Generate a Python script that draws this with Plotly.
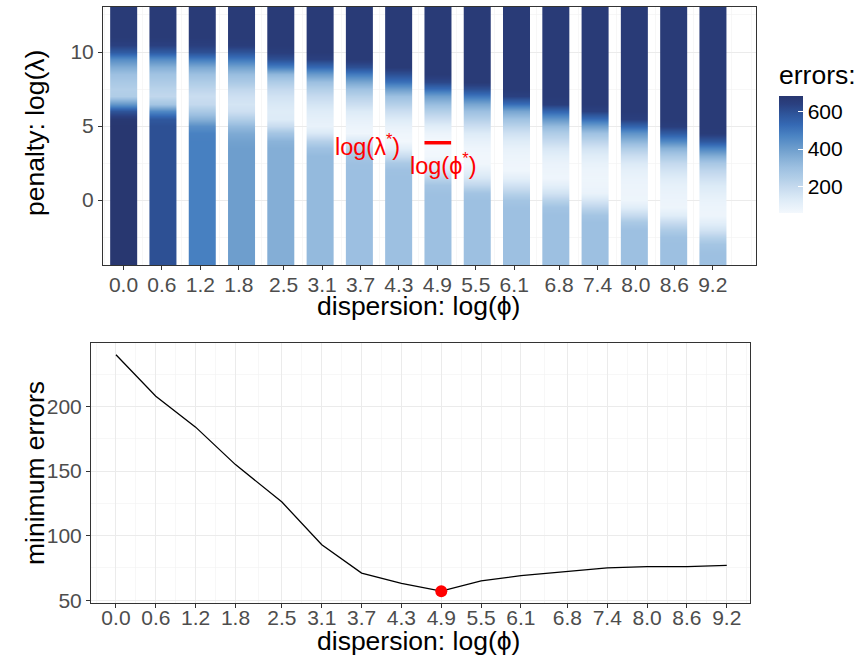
import plotly.graph_objects as go

# ---------------- data ----------------
log_phi = [0.0, 0.613, 1.227, 1.84, 2.453, 3.067, 3.68, 4.293, 4.907, 5.52,
           6.133, 6.747, 7.36, 7.973, 8.587, 9.2]
tick_labels = [0.0, 0.6, 1.2, 1.8, 2.5, 3.1, 3.7, 4.3, 4.9, 5.5, 6.1, 6.8, 7.4, 8.0, 8.6, 9.2]
minor_x = [-0.3, 0.3, 0.9, 1.5, 2.15, 2.8, 3.4, 4.0, 4.6, 5.2, 5.8, 6.45, 7.1, 7.7, 8.3, 8.9, 9.5, 9.8]

log_lambda = [-4.5, -4.0, -3.5, -3.0, -2.5, -2.0, -1.5, -1.0, -0.5, 0.0, 0.5, 1.0,
              1.5, 2.0, 2.5, 3.0, 3.5, 4.0, 4.5, 5.0, 5.5, 6.0, 6.5, 7.0,
              7.5, 8.0, 8.5, 9.0, 9.5, 10.0, 10.5, 11.0, 11.5, 12.0, 12.5, 13.0]

# errors for each dispersion column, listed from log_lambda = -4.5 up to 13.0
err_c01 = [684, 684, 684, 684, 684, 684, 684, 684, 684, 684, 684, 684, 684, 684, 684, 684, 684, 684,
           684, 684, 675, 590, 420, 248, 240, 265, 300, 360, 450, 570, 640, 665, 665, 665, 665, 665]
err_c02 = [600, 600, 600, 600, 600, 600, 600, 600, 600, 600, 600, 600, 600, 600, 600, 600, 600, 600,
           600, 600, 580, 460, 280, 208, 225, 255, 290, 350, 450, 570, 640, 665, 665, 665, 665, 665]
err_c03 = [480, 480, 480, 480, 480, 480, 480, 480, 480, 480, 480, 480, 480, 480, 480, 480, 480, 480,
           475, 440, 350, 265, 200, 185, 215, 250, 300, 370, 490, 600, 645, 665, 665, 665, 665, 665]
err_c04 = [400, 400, 400, 400, 400, 400, 400, 400, 400, 400, 400, 400, 400, 400, 400, 400, 400, 390,
           365, 320, 245, 175, 155, 175, 210, 260, 310, 390, 500, 590, 655, 665, 665, 665, 665, 665]
err_c05 = [355, 355, 355, 355, 355, 355, 355, 355, 355, 355, 355, 355, 355, 355, 355, 355, 355, 340,
           280, 190, 130, 126, 140, 165, 200, 250, 330, 480, 600, 650, 665, 665, 665, 665, 665, 665]
err_c06 = [320, 320, 320, 320, 320, 320, 320, 320, 320, 320, 320, 320, 320, 320, 320, 320, 295, 235,
           140, 93, 105, 125, 155, 195, 240, 300, 410, 530, 640, 665, 665, 665, 665, 665, 665, 665]
err_c07 = [302, 302, 302, 302, 302, 302, 302, 302, 302, 302, 302, 302, 302, 302, 298, 280, 220, 140,
           71, 80, 100, 130, 180, 230, 290, 375, 490, 600, 665, 665, 665, 665, 665, 665, 665, 665]
err_c08 = [300, 300, 300, 300, 300, 300, 300, 300, 300, 300, 300, 300, 300, 295, 265, 190, 110, 63,
           72, 95, 130, 180, 235, 300, 400, 510, 600, 665, 665, 665, 665, 665, 665, 665, 665, 665]
err_c09 = [300, 300, 300, 300, 300, 300, 300, 300, 300, 300, 298, 280, 225, 145, 95, 65, 57, 60,
           80, 120, 175, 240, 310, 400, 520, 620, 665, 665, 665, 665, 665, 665, 665, 665, 665, 665]
err_c10 = [300, 300, 300, 300, 300, 300, 300, 300, 300, 300, 285, 210, 148, 100, 66, 67, 75, 95,
           130, 180, 235, 300, 380, 500, 600, 665, 665, 665, 665, 665, 665, 665, 665, 665, 665, 665]
err_c11 = [300, 300, 300, 300, 300, 300, 300, 300, 298, 280, 230, 165, 110, 70, 72, 80, 95, 125,
           170, 225, 290, 380, 520, 640, 665, 665, 665, 665, 665, 665, 665, 665, 665, 665, 665, 665]
err_c12 = [300, 300, 300, 300, 300, 300, 300, 300, 285, 230, 165, 110, 73, 78, 88, 110, 145, 195,
           250, 320, 420, 540, 650, 665, 665, 665, 665, 665, 665, 665, 665, 665, 665, 665, 665, 665]
err_c13 = [300, 300, 300, 300, 300, 300, 300, 280, 215, 150, 90, 78, 75, 80, 95, 120, 160, 220,
           295, 400, 520, 640, 665, 665, 665, 665, 665, 665, 665, 665, 665, 665, 665, 665, 665, 665]
err_c14 = [300, 300, 300, 300, 300, 300, 265, 195, 120, 76, 77, 80, 88, 105, 135, 180, 250, 335,
           430, 545, 645, 665, 665, 665, 665, 665, 665, 665, 665, 665, 665, 665, 665, 665, 665, 665]
err_c15 = [300, 300, 300, 300, 295, 255, 190, 120, 76, 80, 88, 100, 125, 160, 200, 260, 345, 460,
           570, 650, 665, 665, 665, 665, 665, 665, 665, 665, 665, 665, 665, 665, 665, 665, 665, 665]
err_c16 = [300, 300, 298, 280, 230, 165, 110, 77, 80, 90, 110, 135, 170, 215, 270, 355, 470, 580,
           660, 665, 665, 665, 665, 665, 665, 665, 665, 665, 665, 665, 665, 665, 665, 665, 665, 665]
error_columns = [err_c01, err_c02, err_c03, err_c04, err_c05, err_c06, err_c07, err_c08,
                 err_c09, err_c10, err_c11, err_c12, err_c13, err_c14, err_c15, err_c16]

min_errors = [240, 208, 184, 155, 126, 93, 71, 63, 57, 65, 69, 72, 75, 76, 76, 77]
best_index = 8
best_log_lambda = 3.87

# ---------------- styles ----------------
FONT = "Liberation Sans, Arial, sans-serif"
BAR_HALF = 0.208
W, H = 860, 659
ERR_MIN, ERR_MAX = 57, 684
stops = [(57, "#F3F8FD"), (130, "#DDEBF7"), (200, "#C4D9EE"), (240, "#B3CFE8"),
         (300, "#9DC0E1"), (350, "#86B0D7"), (400, "#6E9ECD"), (470, "#4B84C3"),
         (530, "#3569B4"), (590, "#2E5499"), (640, "#2A4080"), (684, "#283770")]
colorscale = [[(v - ERR_MIN) / (ERR_MAX - ERR_MIN), c] for v, c in stops]

fig = go.Figure()

for i, col in enumerate(error_columns):
    c = log_phi[i]
    fig.add_trace(go.Heatmap(
        x=[c - BAR_HALF, c, c + BAR_HALF],
        y=log_lambda,
        z=[[v, v] for v in col],
        coloraxis="coloraxis",
        zsmooth="best",
        hoverinfo="skip",
        xaxis="x", yaxis="y",
    ))

# best-lambda segment
fig.add_trace(go.Scatter(
    x=[log_phi[best_index] - BAR_HALF, log_phi[best_index] + BAR_HALF],
    y=[best_log_lambda, best_log_lambda],
    mode="lines", line=dict(color="#FF0000", width=3.5),
    showlegend=False, hoverinfo="skip", xaxis="x", yaxis="y",
))

# bottom panel
fig.add_trace(go.Scatter(
    x=tick_labels, y=min_errors, mode="lines",
    line=dict(color="black", width=1.3),
    showlegend=False, xaxis="x2", yaxis="y2",
))
fig.add_trace(go.Scatter(
    x=[tick_labels[best_index]], y=[min_errors[best_index]], mode="markers",
    marker=dict(color="#FF0000", size=12),
    showlegend=False, xaxis="x2", yaxis="y2",
))

axis_common = dict(
    showline=True, mirror=True, linecolor="#333333", linewidth=1,
    ticks="outside", ticklen=4, tickcolor="#333333",
    showgrid=True, gridcolor="#EBEBEB", gridwidth=1, zeroline=False,
    automargin=False,
    tickfont=dict(family=FONT, size=21, color="#4D4D4D"),
)
title_font = dict(family=FONT, size=26.5, color="black")
minor_style = dict(showgrid=True, gridcolor="#F2F2F2", gridwidth=0.6, ticks="")

fig.update_layout(
    width=W, height=H,
    margin=dict(l=0, r=0, t=0, b=0, autoexpand=False),
    paper_bgcolor="white", plot_bgcolor="white",
    showlegend=False,
    font=dict(family=FONT),
    xaxis=dict(
        domain=[103 / W, 756 / W], anchor="y", range=[-0.32, 9.875],
        tickmode="array", tickvals=tick_labels, ticktext=[f"{v:.1f}" for v in tick_labels],
        minor=dict(tickmode="array", tickvals=minor_x, **minor_style),
        ticklabelstandoff=-3,
        **axis_common,
    ),
    yaxis=dict(
        domain=[(H - 265) / H, (H - 7) / H], anchor="x", range=[-4.39, 13.04],
        tickmode="array", tickvals=[0, 5, 10],
        minor=dict(tickmode="array", tickvals=[-2.5, 2.5, 7.5, 12.5], **minor_style),
        **axis_common,
    ),
    xaxis2=dict(
        domain=[91 / W, 750 / W], anchor="y2", range=[-0.376, 9.55],
        tickmode="array", tickvals=tick_labels, ticktext=[f"{v:.1f}" for v in tick_labels],
        minor=dict(tickmode="array", tickvals=minor_x, **minor_style),
        ticklabelstandoff=-8,
        **axis_common,
    ),
    yaxis2=dict(
        domain=[(H - 603) / H, (H - 343) / H], anchor="x2", range=[47.85, 249.15],
        tickmode="array", tickvals=[50, 100, 150, 200],
        minor=dict(tickmode="array", tickvals=[75, 125, 175, 225], **minor_style),
        **axis_common,
    ),
    coloraxis=dict(
        colorscale=colorscale, cmin=ERR_MIN, cmax=ERR_MAX,
        colorbar=dict(
            x=779 / W, xanchor="left", y=(H - 213) / H, yanchor="bottom",
            len=152 / H, lenmode="fraction", thickness=24, thicknessmode="pixels",
            outlinewidth=0, xpad=0, ypad=0,
            tickmode="array", tickvals=[200, 400, 600],
            ticks="inside", ticklen=5, tickcolor="white",
            tickfont=dict(family=FONT, size=21, color="black"),
            title=dict(text="errors:", side="top", font=dict(family=FONT, size=26.5, color="black")),
        ),
    ),
    annotations=[
        dict(x=3.81, y=3.72, xref="x", yref="y", text="log(λ<sup>*</sup>)", showarrow=False,
             font=dict(family=FONT, size=23.5, color="#FF0000")),
        dict(x=5.0, y=2.45, xref="x", yref="y", text="log(ϕ<sup>*</sup>)", showarrow=False,
             font=dict(family=FONT, size=23.5, color="#FF0000")),
        # axis titles
        dict(x=418.5 / W, y=(H - 306) / H, xref="paper", yref="paper", text="dispersion: log(ϕ)",
             showarrow=False, xanchor="center", yanchor="middle", font=title_font),
        dict(x=418.5 / W, y=(H - 641) / H, xref="paper", yref="paper", text="dispersion: log(ϕ)",
             showarrow=False, xanchor="center", yanchor="middle", font=title_font),
        dict(x=35 / W, y=(H - 133) / H, xref="paper", yref="paper", text="penalty: log(λ)",
             showarrow=False, xanchor="center", yanchor="middle", textangle=-90, font=title_font),
        dict(x=35 / W, y=(H - 473) / H, xref="paper", yref="paper", text="minimum errors",
             showarrow=False, xanchor="center", yanchor="middle", textangle=-90, font=title_font),
    ],
)

fig.write_html(
    "out.html",
    config={"displayModeBar": False, "staticPlot": True},
    post_script="document.body.style.margin='0px';document.body.style.overflow='hidden';",
)
